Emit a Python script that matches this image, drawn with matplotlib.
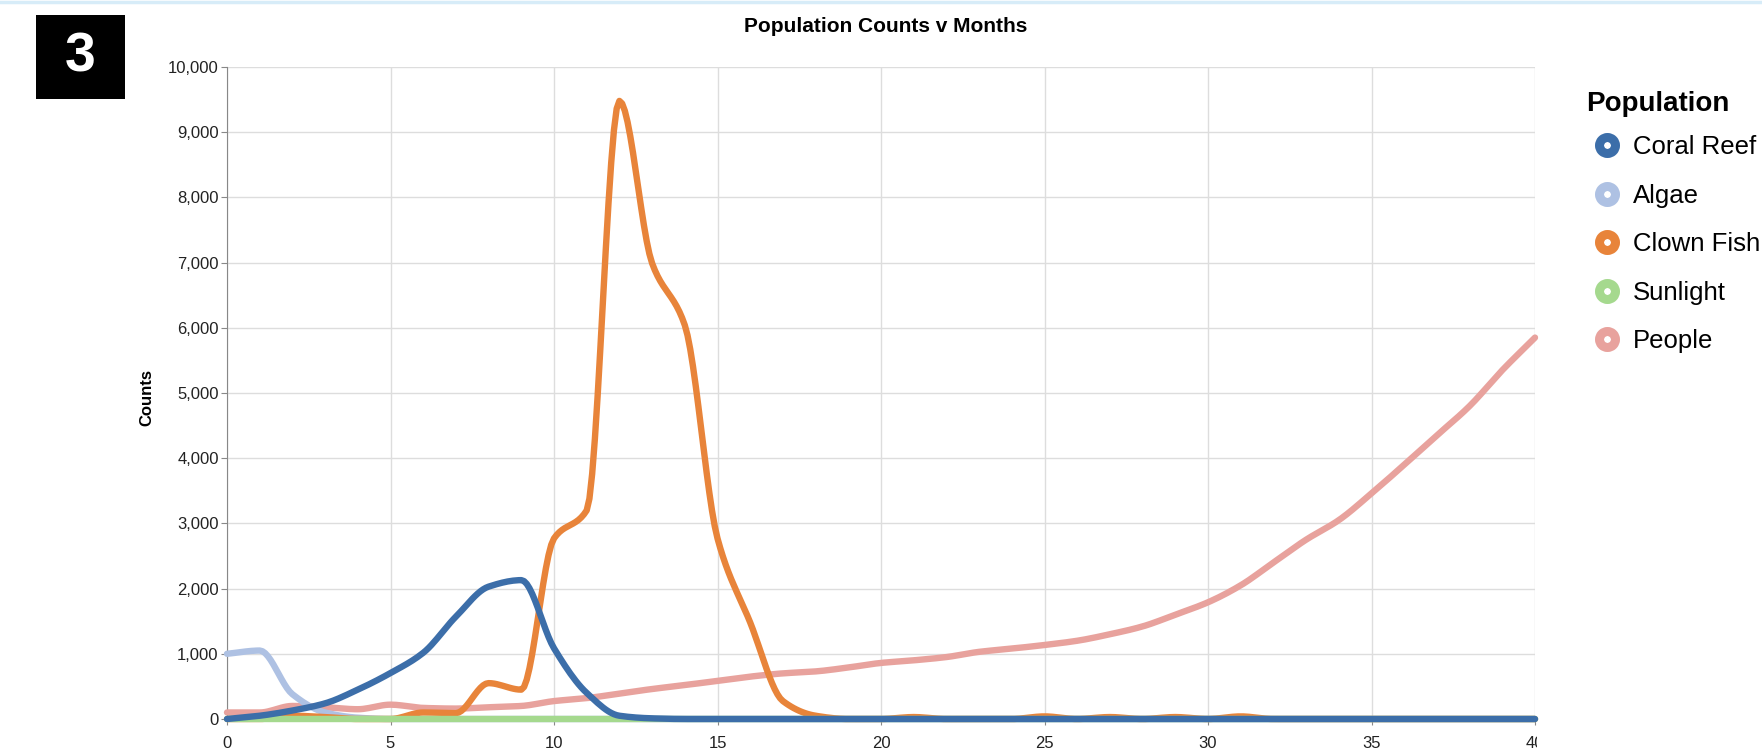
import numpy as np
import matplotlib
matplotlib.use("Agg")
import matplotlib.pyplot as plt
from matplotlib.lines import Line2D
from matplotlib.patches import Rectangle
from matplotlib.ticker import FuncFormatter
from matplotlib.transforms import Bbox, TransformedBbox

plt.rcParams['font.family'] = ['Liberation Sans', 'DejaVu Sans']

# data, one value per month
months = list(range(41))
coral_reef = [0, 50, 130, 240, 450, 705, 1015, 1570, 2030, 2130, 1085, 400, 50, 10] + [0] * 27
algae = [1000, 1050, 380, 100, 20] + [0] * 36
clown_fish = [0, 0, 50, 30, 0, 0, 100, 90, 550, 450, 2770, 3200, 9480, 6990, 6040, 2770,
              1480, 275, 50, 0, 0, 30, 0, 0, 0, 40, 0, 30, 0, 30, 0, 40] + [0] * 9
sunlight = [0] * 41
people = [100, 100, 200, 180, 150, 220, 170, 160, 180, 200, 275, 320, 390, 460, 520, 585,
          650, 700, 730, 790, 860, 900, 950, 1030, 1080, 1135, 1200, 1300, 1420, 1600, 1790,
          2050, 2400, 2750, 3050, 3460, 3900, 4350, 4800, 5350, 5850]

names = ["Coral Reef", "Algae", "Clown Fish", "Sunlight", "People"]
series = [coral_reef, algae, clown_fish, sunlight, people]
colors = ["#3c6ea9", "#aec1e3", "#e8843a", "#a5d98e", "#e8a29d"]
# drawing order: people at the bottom, coral reef on top
z_order = [5, 2, 3, 4, 1]
y_ticks = list(range(0, 10001, 1000))
x_ticks = list(range(0, 41, 5))


def monotone(x, y, n=12):
    # monotone cubic curve through the points (like vega's "monotone" line)
    x = np.asarray(x, float)
    y = np.asarray(y, float)
    h = np.diff(x)
    d = np.diff(y) / h
    m = np.zeros_like(y)
    m[0], m[-1] = d[0], d[-1]
    for i in range(1, len(y) - 1):
        if d[i - 1] * d[i] > 0:
            w1 = 2 * h[i] + h[i - 1]
            w2 = h[i] + 2 * h[i - 1]
            m[i] = (w1 + w2) / (w1 / d[i - 1] + w2 / d[i])
    xs, ys = [], []
    for i in range(len(x) - 1):
        t = np.linspace(0, 1, n, endpoint=False)
        h00 = 2 * t**3 - 3 * t**2 + 1
        h10 = t**3 - 2 * t**2 + t
        h01 = -2 * t**3 + 3 * t**2
        h11 = t**3 - t**2
        xs.append(x[i] + t * h[i])
        ys.append(h00 * y[i] + h10 * h[i] * m[i] + h01 * y[i + 1] + h11 * h[i] * m[i + 1])
    xs.append([x[-1]])
    ys.append([y[-1]])
    return np.concatenate(xs), np.concatenate(ys)


W, H = 1762, 748
fig = plt.figure(figsize=(W / 100, H / 100), dpi=100)
ax = fig.add_axes([227 / W, 1 - 719 / H, (1535 - 227) / W, (719 - 67) / H])

for name, vals, c, z in zip(names, series, colors, z_order):
    xs, ys = monotone(months, vals)
    ax.plot(xs, ys, color=c, lw=4.6, solid_capstyle="round", solid_joinstyle="round",
            clip_on=False, zorder=3 + z * 0.1)

ax.set_xlim(0, 40)
ax.set_ylim(0, 10000)
ax.set_xticks(x_ticks)
ax.set_yticks(y_ticks)
ax.yaxis.set_major_formatter(FuncFormatter(lambda v, p: f"{v:,.0f}"))
ax.grid(True, color="#dddddd", lw=1)
ax.set_axisbelow(True)
for s in ["top", "right"]:
    ax.spines[s].set_visible(False)
for s in ["left", "bottom"]:
    ax.spines[s].set_color("#888888")
ax.tick_params(colors="#888888", length=4, labelcolor="#222222", labelsize=12)
ax.tick_params(axis="y", pad=2)
ax.tick_params(axis="x", pad=8)

# the screenshot cuts the last x label at the right
clip = TransformedBbox(Bbox([[0, 0], [1537 / W, 1]]), fig.transFigure)
for lab in ax.get_xticklabels():
    lab.set_clip_box(clip)
    lab.set_clip_on(True)

fig.text(147 / W, 1 - 397 / H, "Counts", rotation=90, ha="center", va="center",
         fontsize=12, fontweight="bold")
fig.text(886 / W, 1 - 27 / H, "Population Counts v Months", ha="center", va="center",
         fontsize=15, fontweight="bold")

# numbered badge and the thin frame line at the top of the screenshot
fig.patches.append(Rectangle((36 / W, 1 - 99 / H), 89 / W, 84 / H, transform=fig.transFigure,
                             facecolor="black", edgecolor="none"))
fig.text(80 / W, 1 - 57 / H, "3", color="white", ha="center", va="center",
         fontsize=40, fontweight="bold")
fig.add_artist(Line2D([0, 1], [1 - 1.5 / H, 1 - 1.5 / H], transform=fig.transFigure,
                      color="#d7ecf8", lw=2.5))

# legend
fig.text(1586 / W, 1 - 104 / H, "Population", ha="left", va="center",
         fontsize=20, fontweight="bold")
handles = [Line2D([], [], ls="none", marker="o", ms=11.5, mew=6.5, mfc="white", mec=c)
           for c in colors]
leg = fig.legend(handles, names, loc="upper left", bbox_to_anchor=(1584 / W, 1 - 125 / H),
                 frameon=False, fontsize=18.5, handlelength=1.0, handletextpad=0.5,
                 labelspacing=0.95, borderaxespad=0)

fig.savefig("out.png", dpi=100)
